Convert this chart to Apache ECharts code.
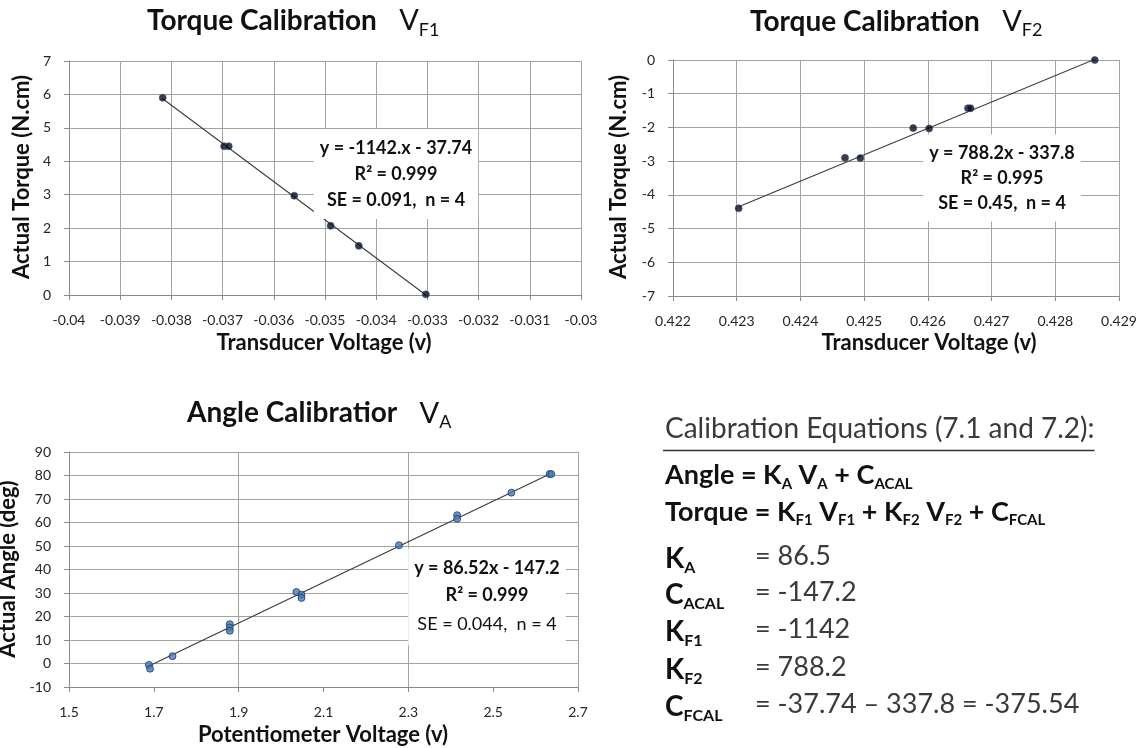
<!DOCTYPE html>
<html><head><meta charset="utf-8">
<script src="https://cdn.jsdelivr.net/npm/echarts@6/dist/echarts.min.js"></script>
<style>html,body{margin:0;padding:0;background:#fff}#c{width:1148px;height:748px}</style>
</head><body><div id="c"></div>
<script>
// ---------- data ----------
const vf1Volt   = [-0.03817, -0.03697, -0.03688, -0.03560, -0.03489, -0.03434, -0.03303];
const vf1Torque = [5.90, 4.45, 4.45, 2.97, 2.07, 1.47, 0.02];
const vf1TrendVolt   = [-0.03817, -0.03303];
const vf1TrendTorque = [5.87, 0.00];

const vf2Volt   = [0.42303, 0.42470, 0.42494, 0.42577, 0.42602, 0.42663, 0.42667, 0.42862];
const vf2Torque = [-4.40, -2.90, -2.91, -2.02, -2.03, -1.43, -1.43, 0.00];
const vf2TrendVolt   = [0.42303, 0.42862];
const vf2TrendTorque = [-4.35, 0.02];

const vaVolt  = [1.6885, 1.691, 1.744, 1.879, 1.879, 1.879, 2.036, 2.048, 2.048, 2.278, 2.415, 2.415, 2.543, 2.633, 2.637];
const vaAngle = [-0.6, -2.2, 3.1, 16.7, 15.3, 13.9, 30.4, 29.3, 27.9, 50.3, 63.1, 61.6, 72.7, 80.6, 80.6];
const vaTrendVolt  = [1.686, 2.636];
const vaTrendAngle = [-1.3, 80.9];

// axis ranges [min, max, step]
const vf1Range = [-0.04, -0.03, 0.001];
const tq1Range = [0, 7, 1];
const vf2Range = [0.422, 0.429, 0.001];
const tq2Range = [-7, 0, 1];
const vaRange  = [1.5, 2.7, 0.1];
const vaTickLabels = [1.5, 1.7, 1.9, 2.1, 2.3, 2.5, 2.7];
const angRange = [-10, 90, 10];

const eqVF1 = ['y = -1142.x - 37.74', 'R² = 0.999', 'SE = 0.091,  n = 4'];
const eqVF2 = ['y = 788.2x - 337.8', 'R² = 0.995', 'SE = 0.45,  n = 4'];
const eqVA  = ['y = 86.52x - 147.2', 'R² = 0.999', 'SE = 0.044,  n = 4'];

const calibHeading = 'Calibration Equations (7.1 and 7.2):';
const calibLabels = [['K','A'], ['C','ACAL'], ['K','F1'], ['K','F2'], ['C','FCAL']];
const calibValues = ['= 86.5', '= -147.2', '= -1142', '= 788.2', '= -37.74 \u2013 337.8 = -375.54'];

// ---------- helpers ----------
const FF = 'Lato, "Open Sans", sans-serif';
const GRID_C = '#a3a3a3', AXIS_C = '#8a8a8a', LABEL_C = '#262626';
const zip = (a, b) => a.map((v, i) => [v, b[i]]);
const fmt = v => String(parseFloat(Number(v).toFixed(4)));

function valAxis(gi, r, extra) {
  return Object.assign({
    type: 'value', gridIndex: gi, min: r[0], max: r[1], interval: r[2],
    axisLine: {show: true, onZero: false, lineStyle: {color: AXIS_C, width: 1}},
    axisTick: {show: true, inside: false, length: 5, lineStyle: {color: AXIS_C}},
    axisLabel: {color: LABEL_C, fontFamily: FF, fontSize: 14, margin: 18, formatter: fmt},
    splitLine: {show: true, lineStyle: {color: GRID_C, width: 1}}
  }, extra || {});
}

const darkDot = {color: '#0b0b16', borderColor: '#2b4f8c', borderWidth: 0.8};
const blueDot = {color: '#4a7ab5', borderColor: '#1c3b6b', borderWidth: 1};
const trendStyle = {color: '#3a3a3a', width: 1.1};

function measure(text, font) {
  const c = document.createElement('canvas').getContext('2d');
  c.font = font; return c.measureText(text).width;
}

function titleRich(x, baseline, main, sub, gap) {
  return {
    type: 'text', x: x, y: baseline - 26.4, z: 50,
    style: {
      text: '{t|' + main + '}{v|' + gap + 'V}{s|' + sub + '}',
      align: 'left', verticalAlign: 'top',
      rich: {
        t: {fontFamily: FF, fontSize: 28, fontWeight: 'bold', fill: '#111', lineHeight: 36, verticalAlign: 'middle'},
        v: {fontFamily: FF, fontSize: 29, fontWeight: 'normal', fill: '#111', lineHeight: 36, verticalAlign: 'middle'},
        s: {fontFamily: FF, fontSize: 18, fontWeight: 'normal', fill: '#111', lineHeight: 18, verticalAlign: 'bottom'}
      }
    }
  };
}
function axisName(x, y, text, vertical) {
  return {
    type: 'text', x: x, y: y, rotation: vertical ? Math.PI / 2 : 0, z: 50,
    style: {text: text, fontFamily: FF, fontSize: 22, fontWeight: 'bold', fill: '#111',
            align: 'center', verticalAlign: 'middle'}
  };
}
function eqBox(x, y, lines, lh, lastNormal) {
  return {
    type: 'text', x: x, y: y, z: 40,
    style: {
      text: '{b|' + lines[0] + '}\n{b|' + lines[1] + '}\n{' + (lastNormal ? 'n' : 'b') + '|' + lines[2] + '}',
      align: 'center', verticalAlign: 'middle',
      backgroundColor: '#fff', padding: [6, 6, 6, 6],
      rich: {
        b: {fontFamily: FF, fontSize: 18, fontWeight: 'bold', fill: '#111', lineHeight: lh},
        n: {fontFamily: FF, fontSize: 18, fontWeight: 'normal', fill: '#111', lineHeight: lh + 4}
      }
    }
  };
}

// ---------- right-hand text block ----------
const headFont = 'normal 28px ' + FF;
const headW = measure(calibHeading, headFont);
const blockX = 665;
const right = [];
right.push({type: 'text', x: blockX, y: 444.5, z: 50,
  style: {text: calibHeading, font: headFont, fill: '#3a3a3a', align: 'left', verticalAlign: 'bottom', lineHeight: 32}});
right.push({type: 'line', z: 50, shape: {x1: blockX - 2, y1: 450.5, x2: blockX + headW, y2: 450.5},
  style: {stroke: '#333', lineWidth: 1.6}});
const eqRich = {
  b: {fontFamily: FF, fontSize: 27, fontWeight: 'bold', fill: '#111', lineHeight: 32, verticalAlign: 'middle'},
  s: {fontFamily: FF, fontSize: 15, fontWeight: 'bold', fill: '#111', lineHeight: 15, verticalAlign: 'bottom'}
};
right.push({type: 'text', x: blockX, y: 482.7 - 23, z: 50, style: {align: 'left', verticalAlign: 'top', rich: eqRich,
  text: '{b|Angle = K}{s|A}{b| V}{s|A}{b| + C}{s|ACAL}'}});
right.push({type: 'text', x: blockX, y: 519 - 23, z: 50, style: {align: 'left', verticalAlign: 'top', rich: eqRich,
  text: '{b|Torque = K}{s|F1}{b| V}{s|F1}{b| + K}{s|F2}{b| V}{s|F2}{b| + C}{s|FCAL}'}});
const rowBase = [566.6, 602.6, 639.6, 677.6, 715];
const rowRich = {
  b: {fontFamily: FF, fontSize: 28, fontWeight: 'bold', fill: '#111', lineHeight: 34, verticalAlign: 'middle'},
  s: {fontFamily: FF, fontSize: 16, fontWeight: 'bold', fill: '#111', lineHeight: 16, verticalAlign: 'bottom'}
};
calibLabels.forEach((lab, i) => {
  right.push({type: 'text', x: blockX, y: rowBase[i] - 24.8, z: 50,
    style: {align: 'left', verticalAlign: 'top', rich: rowRich, text: '{b|' + lab[0] + '}{s|' + lab[1] + '}'}});
  right.push({type: 'text', x: 755, y: rowBase[i] - 10.5, z: 50,
    style: {text: calibValues[i], fontFamily: FF, fontSize: 27, fontWeight: 'normal', fill: '#3a3a3a',
            align: 'left', verticalAlign: 'middle'}});
});

// ---------- option ----------
const option = {
  animation: false,
  backgroundColor: '#fff',
  grid: [
    {left: 69, top: 61, width: 512, height: 234, outerBoundsMode: 'none', containLabel: false},
    {left: 673, top: 60, width: 446, height: 236, outerBoundsMode: 'none', containLabel: false},
    {left: 69, top: 452, width: 509, height: 235, outerBoundsMode: 'none', containLabel: false}
  ],
  xAxis: [
    valAxis(0, vf1Range),
    valAxis(1, vf2Range),
    valAxis(2, vaRange, {
      axisTick: {show: true, length: 5, lineStyle: {color: AXIS_C}, customValues: vaTickLabels},
      axisLabel: {color: LABEL_C, fontFamily: FF, fontSize: 14, margin: 18, customValues: vaTickLabels,
        formatter: v => (Math.round(v * 10) % 2 === 1 ? Number(v).toFixed(1) : '')},
      splitLine: {show: true, lineStyle: {color: [GRID_C, 'rgba(0,0,0,0)'], width: 1}}
    })
  ],
  yAxis: [
    valAxis(0, tq1Range),
    valAxis(1, tq2Range),
    valAxis(2, angRange)
  ],
  series: [
    {type: 'line', xAxisIndex: 0, yAxisIndex: 0, data: zip(vf1TrendVolt, vf1TrendTorque),
     showSymbol: false, lineStyle: trendStyle, z: 2, silent: true},
    {type: 'scatter', xAxisIndex: 0, yAxisIndex: 0, data: zip(vf1Volt, vf1Torque),
     symbolSize: 7, itemStyle: darkDot, z: 3},
    {type: 'line', xAxisIndex: 1, yAxisIndex: 1, data: zip(vf2TrendVolt, vf2TrendTorque),
     showSymbol: false, lineStyle: trendStyle, z: 2, silent: true},
    {type: 'scatter', xAxisIndex: 1, yAxisIndex: 1, data: zip(vf2Volt, vf2Torque),
     symbolSize: 7, itemStyle: darkDot, z: 3},
    {type: 'line', xAxisIndex: 2, yAxisIndex: 2, data: zip(vaTrendVolt, vaTrendAngle),
     showSymbol: false, lineStyle: trendStyle, z: 2, silent: true},
    {type: 'scatter', xAxisIndex: 2, yAxisIndex: 2, data: zip(vaVolt, vaAngle),
     symbolSize: 7, itemStyle: blueDot, z: 3}
  ],
  graphic: [
    titleRich(147, 29.5, 'Torque Calibration', 'F1', '   '),
    titleRich(750, 30, 'Torque Calibration', 'F2', '   '),
    titleRich(187, 421.7, 'Angle Calibratior', 'A', '   '),
    axisName(324, 343, 'Transducer Voltage (v)', false),
    axisName(929, 343, 'Transducer Voltage (v)', false),
    axisName(323, 735, 'Potentiometer Voltage (v)', false),
    axisName(22, 177, 'Actual Torque (N.cm)', true),
    axisName(619, 177, 'Actual Torque (N.cm)', true),
    axisName(8, 569, 'Actual Angle (deg)', true),
    eqBox(396, 174, eqVF1, 26, false),
    eqBox(1002, 178, eqVF2, 25, false),
    eqBox(487, 597, eqVA, 27, true)
  ].concat(right)
};

const chart = echarts.init(document.getElementById('c'), null, {renderer: 'canvas'});
chart.setOption(option);
</script>
</body></html>
